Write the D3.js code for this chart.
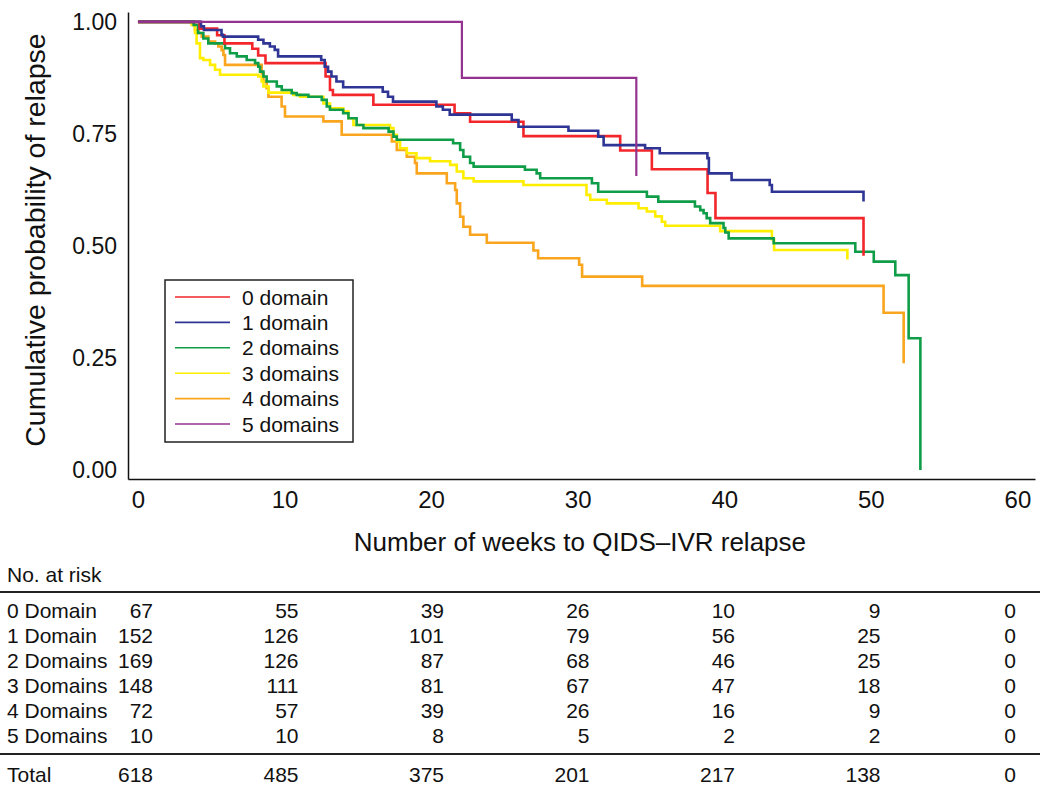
<!DOCTYPE html>
<html>
<head>
<meta charset="utf-8">
<script src="https://cdn.jsdelivr.net/npm/d3@7"></script>
<style>
  html, body { margin: 0; padding: 0; background: #ffffff; }
  svg { display: block; }
  text { font-family: "Liberation Sans", Arial, Helvetica, sans-serif; fill: #111; }
</style>
</head>
<body>
<svg id="chart" width="1050" height="789"></svg>
<script>
// ---------------- DATA ----------------
const seriesNames = ["0 domain", "1 domain", "2 domains", "3 domains", "4 domains", "5 domains"];
const seriesColors = ["#f2262b", "#2e3594", "#0f9d48", "#ffee00", "#f9a51e", "#93338f"];

// Kaplan–Meier step points [week, cumulative probability]
const domain0 = [[0,1],[4.2,0.985],[5.4,0.97],[5.9,0.952],[7.8,0.94],[8.2,0.925],[8.7,0.908],[12.8,0.878],[13.1,0.848],[13.3,0.837],[16.06,0.815],[21.6,0.796],[22.66,0.777],[26.3,0.745],[32.9,0.713],[35.06,0.671],[38.86,0.618],[39.4,0.562],[49.5,0.478]];
const domain1 = [[0,1],[4.3,0.99],[4.5,0.982],[5.7,0.971],[5.8,0.967],[8.2,0.96],[8.56,0.952],[9.0,0.945],[9.33,0.9375],[9.56,0.923],[12.5,0.915],[12.74,0.90],[12.97,0.889],[13.2,0.878],[13.54,0.867],[14.0,0.854],[16.7,0.844],[17.06,0.833],[17.4,0.822],[20.36,0.811],[20.8,0.804],[21.27,0.793],[25.5,0.781],[25.96,0.766],[29.37,0.757],[31.4,0.744],[31.77,0.725],[34.6,0.718],[35.6,0.707],[38.85,0.696],[38.95,0.662],[40.5,0.647],[43.1,0.636],[43.25,0.621],[49.5,0.599]];
const domain2 = [[0,1],[3.8,0.993],[4.1,0.975],[4.46,0.963],[4.8,0.952],[5.94,0.941],[6.28,0.93],[6.74,0.923],[7.42,0.915],[7.99,0.908],[8.21,0.9],[8.33,0.889],[8.56,0.878],[8.78,0.867],[9.47,0.856],[9.81,0.848],[10.49,0.841],[10.83,0.837],[11.63,0.833],[12.54,0.826],[12.88,0.811],[13.1,0.804],[14.0,0.796],[14.36,0.785],[14.92,0.77],[15.38,0.763],[17.1,0.755],[17.43,0.744],[17.66,0.737],[21.5,0.729],[21.98,0.714],[22.2,0.699],[22.66,0.685],[22.9,0.677],[26.4,0.67],[27.2,0.662],[27.44,0.651],[30.97,0.64],[31.4,0.621],[34.72,0.61],[35.5,0.599],[38.0,0.588],[38.36,0.58],[38.59,0.573],[38.8,0.562],[39.04,0.551],[39.95,0.54],[40.07,0.53],[40.3,0.517],[43.37,0.506],[48.94,0.487],[50.2,0.465],[51.67,0.435],[52.58,0.294],[53.38,0]];
const domain3 = [[0,1],[3.66,0.993],[3.89,0.975],[4.0,0.952],[4.23,0.919],[4.46,0.915],[4.92,0.904],[5.26,0.893],[5.6,0.882],[8.21,0.878],[8.44,0.867],[8.56,0.856],[8.9,0.842],[10.6,0.837],[11.06,0.833],[12.65,0.818],[13.1,0.807],[14.0,0.8],[14.36,0.785],[14.7,0.77],[17.2,0.763],[17.43,0.748],[17.66,0.733],[17.88,0.718],[18.34,0.707],[19.0,0.696],[19.93,0.689],[21.3,0.681],[21.75,0.666],[22.2,0.651],[22.9,0.644],[26.3,0.636],[30.6,0.614],[30.86,0.603],[31.99,0.595],[34.15,0.584],[34.72,0.577],[35.29,0.566],[35.74,0.554],[35.97,0.545],[39.72,0.533],[43.25,0.515],[43.4,0.491],[48.4,0.47]];
const domain4 = [[0,1],[3.78,0.993],[3.89,0.982],[4.12,0.975],[4.35,0.967],[4.8,0.956],[5.26,0.952],[5.48,0.945],[5.71,0.937],[5.83,0.926],[5.94,0.904],[8.44,0.885],[8.56,0.867],[8.78,0.852],[8.9,0.833],[9.8,0.811],[10.03,0.789],[12.65,0.778],[13.9,0.748],[17.32,0.733],[17.66,0.714],[18.34,0.699],[18.9,0.685],[19.02,0.662],[21.07,0.64],[21.64,0.625],[21.75,0.595],[21.98,0.565],[22.2,0.543],[22.66,0.525],[23.8,0.507],[26.98,0.49],[27.3,0.4725],[30.1,0.458],[30.3,0.4315],[34.4,0.411],[50.87,0.351],[52.24,0.238]];
const domain5 = [[0,1],[22.1,0.875],[34.0,0.656]];
const allSeries = [domain0, domain1, domain2, domain3, domain4, domain5];
const drawOrder = [4, 3, 2, 0, 1, 5];

const xTicks = [0, 10, 20, 30, 40, 50, 60];
const yTicks = [0, 0.25, 0.5, 0.75, 1];
const xTitle = "Number of weeks to QIDS\u2013IVR relapse";
const yTitle = "Cumulative probability of relapse";

const riskTitle = "No. at risk";
const riskGroups = ["0 Domain", "1 Domain", "2 Domains", "3 Domains", "4 Domains", "5 Domains"];
const riskCounts = [
  [67, 55, 39, 26, 10, 9, 0],
  [152, 126, 101, 79, 56, 25, 0],
  [169, 126, 87, 68, 46, 25, 0],
  [148, 111, 81, 67, 47, 18, 0],
  [72, 57, 39, 26, 16, 9, 0],
  [10, 10, 8, 5, 2, 2, 0]
];
const riskTotalLabel = "Total";
const riskTotal = [618, 485, 375, 201, 217, 138, 0];

// ---------------- LAYOUT ----------------
const svg = d3.select("#chart");
const x = d3.scaleLinear().domain([-0.68, 61.2]).range([128, 1035]);
const y = d3.scaleLinear().domain([-0.02, 1.022]).range([479, 12]);

// axes
const yAxis = d3.axisLeft(y).tickValues(yTicks).tickFormat(d3.format(".2f")).tickSize(0).tickPadding(11);
const gy = svg.append("g").attr("transform", `translate(${x.range()[0]},0)`).call(yAxis);
gy.select(".domain").attr("stroke", "#111").attr("stroke-width", 1.5);
gy.selectAll(".tick text").style("font-size", "23px").attr("fill", "#111");

const xAxis = d3.axisBottom(x).tickValues(xTicks).tickFormat(d3.format("d")).tickSize(0).tickPadding(12);
const gx = svg.append("g").attr("transform", `translate(0,${y.range()[0]})`).call(xAxis);
gx.select(".domain").attr("stroke", "#111").attr("stroke-width", 1.5);
gx.selectAll(".tick text").style("font-size", "24px").attr("fill", "#111");

svg.append("text")
  .attr("x", x(30.15)).attr("y", 551)
  .attr("text-anchor", "middle")
  .style("font-size", "26px")
  .text(xTitle);

svg.append("text")
  .attr("transform", `translate(45,240) rotate(-90)`)
  .attr("text-anchor", "middle")
  .style("font-size", "28.5px")
  .text(yTitle);

// curves
const line = d3.line().x(d => x(d[0])).y(d => y(d[1])).curve(d3.curveStepAfter);
svg.append("g").selectAll("path")
  .data(drawOrder)
  .join("path")
  .attr("d", i => line(allSeries[i]))
  .attr("fill", "none")
  .attr("stroke", i => seriesColors[i])
  .attr("stroke-width", i => i === 5 ? 2.2 : 2.6)
  .attr("stroke-linejoin", "miter")
  .attr("stroke-linecap", "butt");

// legend
const legend = svg.append("g").attr("transform", "translate(165,280)");
legend.append("rect")
  .attr("width", 188).attr("height", 162)
  .attr("fill", "#ffffff").attr("stroke", "#222").attr("stroke-width", 1.5);
const li = legend.selectAll("g.item").data(seriesNames).join("g")
  .attr("class", "item")
  .attr("transform", (d, i) => `translate(0,${17 + i * 25.4})`);
li.append("line").attr("x1", 10).attr("x2", 65).attr("y1", 0).attr("y2", 0)
  .attr("stroke", (d, i) => seriesColors[i]).attr("stroke-width", 1.6);
li.append("text").attr("x", 77).attr("y", 0).attr("dy", "0.36em")
  .style("font-size", "21px").text(d => d);

// risk table
const table = svg.append("g");
const colRight = i => i < 6 ? 153 + 145.5 * i : 1016;
table.append("text").attr("x", 7).attr("y", 582).style("font-size", "21px").text(riskTitle);
table.append("line").attr("x1", 0).attr("x2", 1040).attr("y1", 592).attr("y2", 592)
  .attr("stroke", "#222").attr("stroke-width", 2);
const rows = table.selectAll("g.row").data(riskGroups).join("g")
  .attr("class", "row")
  .attr("transform", (d, i) => `translate(0,${618 + i * 25})`);
rows.append("text").attr("x", 7).attr("y", 0).style("font-size", "21px").text(d => d);
rows.each(function(d, i) {
  d3.select(this).selectAll("text.num").data(riskCounts[i]).join("text")
    .attr("class", "num")
    .attr("x", (v, j) => colRight(j)).attr("y", 0)
    .attr("text-anchor", "end").style("font-size", "21px").text(v => v);
});
table.append("line").attr("x1", 0).attr("x2", 1040).attr("y1", 754).attr("y2", 754)
  .attr("stroke", "#222").attr("stroke-width", 2);
const totalRow = table.append("g").attr("transform", "translate(0,782)");
totalRow.append("text").attr("x", 7).attr("y", 0).style("font-size", "21px").text(riskTotalLabel);
totalRow.selectAll("text.num").data(riskTotal).join("text")
  .attr("class", "num")
  .attr("x", (v, j) => colRight(j)).attr("y", 0)
  .attr("text-anchor", "end").style("font-size", "21px").text(v => v);
</script>
</body>
</html>
